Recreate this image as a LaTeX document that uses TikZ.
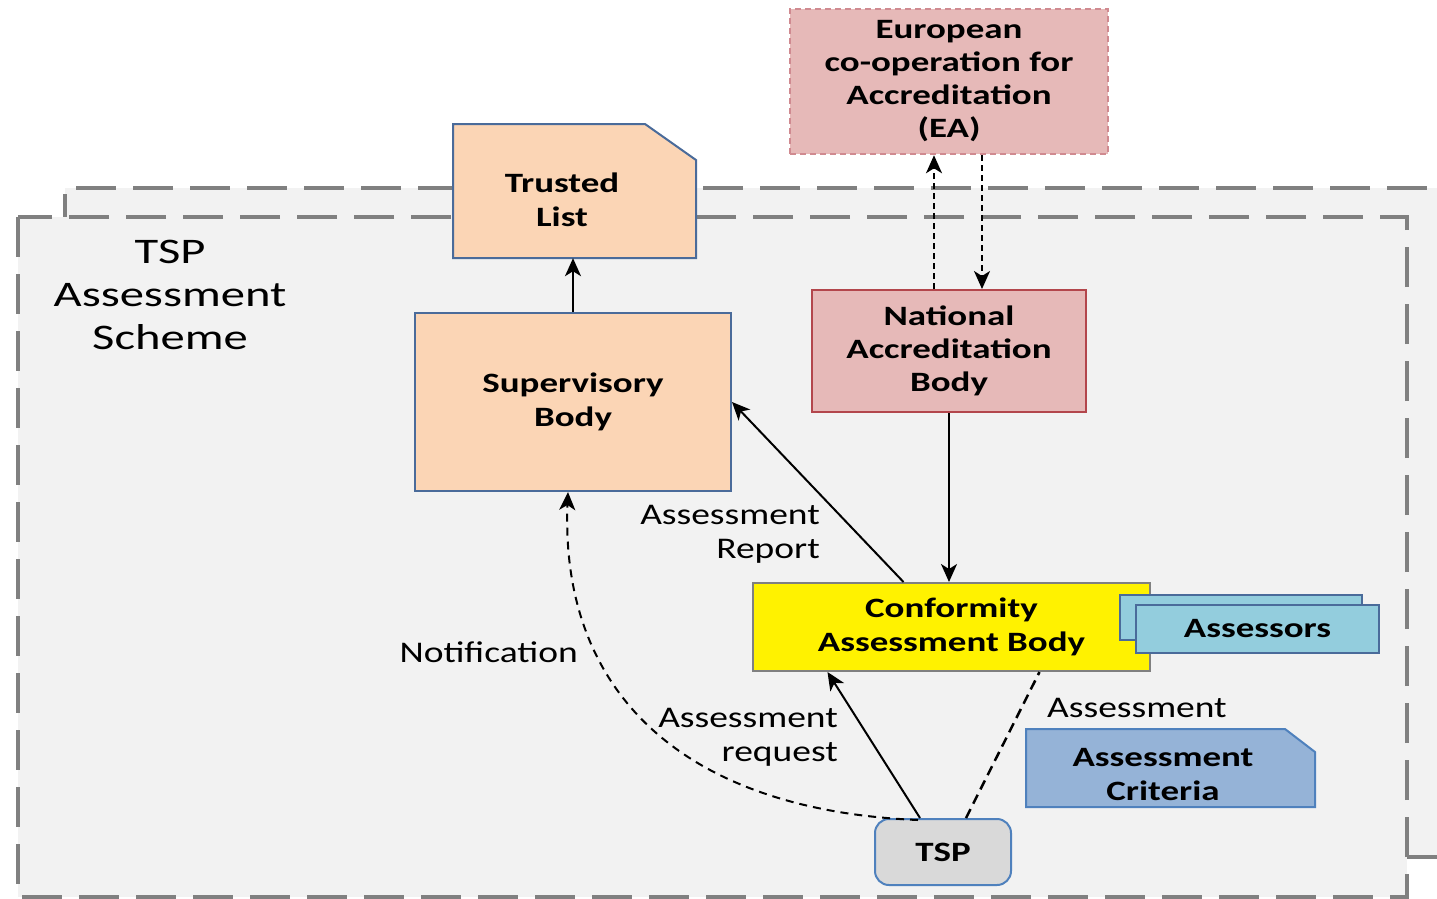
\documentclass[tikz,border=0pt]{standalone}
\usepackage{fontspec}
\setmainfont{Carlito}
\newfontfamily\boxfont{Carlito}[FakeStretch=1.32]
\newfontfamily\lblfont{Carlito}[FakeStretch=1.25]
\newfontfamily\schemefont{Carlito}[FakeStretch=1.35]
\usetikzlibrary{arrows.meta}
\definecolor{bggray}{HTML}{F2F2F2}
\definecolor{framegray}{HTML}{808080}
\definecolor{peach}{HTML}{FBD5B5}
\definecolor{slate}{HTML}{4A6B9A}
\definecolor{rosefill}{HTML}{E6B9B8}
\definecolor{rosedash}{HTML}{D08A90}
\definecolor{rosedark}{HTML}{B3464C}
\definecolor{cyanfill}{HTML}{93CDDD}
\definecolor{critfill}{HTML}{95B3D7}
\definecolor{critline}{HTML}{4F81BD}
\definecolor{tspfill}{HTML}{D9D9D9}

\begin{document}
\begin{tikzpicture}[x=1pt,y=-1pt,
    frame/.style={draw=framegray,line width=4pt,dash pattern=on 40pt off 17pt},
    box/.style={align=center,inner sep=0pt,font=\boxfont\bfseries\fontsize{28}{34}\selectfont},
    lbl/.style={inner sep=0pt,font=\lblfont\fontsize{30}{34}\selectfont},
    arr/.style={line width=2pt,-{Stealth[length=18pt,width=16pt,inset=5pt]}},
    dotarr/.style={arr,dash pattern=on 6pt off 4pt},
    peachbox/.style={box,draw=slate,line width=2pt,fill=peach}]
    \useasboundingbox (0,0) rectangle (1437,898);
    % scheme frames
    \fill[bggray] (65,188) rectangle (1437,857);
    \draw[frame] (1437,857) -- (65,857) -- (65,188) -- (1437,188);
    \filldraw[frame,fill=bggray] (18,217) rectangle (1407,897);
    \node[inner sep=0pt,align=center,font=\schemefont\fontsize{36}{43}\selectfont] (scheme) at (170,295) {TSP\\Assessment\\Scheme};
    % documents
    \filldraw[slate,fill=peach,line width=2pt] (453,124) -- (645,124) -- (696,160) -- (696,258) -- (453,258) -- cycle;
    \node[box,minimum height=116pt] (tl) at (562,200) {Trusted\\List};
    \filldraw[critline,fill=critfill,line width=2pt] (1026,729) -- (1285,729) -- (1315,752) -- (1315,807) -- (1026,807) -- cycle;
    \node[box] (crit) at (1163,775) {Assessment\\Criteria};
    % bodies
    \node[peachbox,minimum width=316pt,minimum height=178pt] (sb) at (573,402) {Supervisory\\Body};
    \node[box,draw=rosedash,line width=2.5pt,dash pattern=on 6pt off 4pt,fill=rosefill,
        minimum width=318pt,minimum height=145pt,font=\boxfont\bfseries\fontsize{28}{33}\selectfont] (ea) at (949,81.5) {European\\co-operation for\\Accreditation\\(EA)};
    \node[box,draw=rosedark,line width=2pt,fill=rosefill,minimum width=274pt,minimum height=122pt,
        font=\boxfont\bfseries\fontsize{28}{33}\selectfont] (nab) at (949,351) {National\\Accreditation\\Body};
    \node[box,draw=framegray,line width=2pt,fill=yellow,minimum width=397pt,minimum height=88pt] (cab) at (951.5,627) {Conformity\\Assessment Body};
    \node[draw=slate,line width=2pt,fill=cyanfill,minimum width=242pt,minimum height=45pt] (asb) at (1241,617.5) {};
    \node[box,draw=slate,line width=2pt,fill=cyanfill,minimum width=243pt,minimum height=48pt] (as) at (1257.5,629) {Assessors};
    \node[box,draw=critline,line width=2pt,fill=tspfill,rounded corners=14pt,minimum width=136pt,minimum height=66pt] (tsp) at (943,852) {TSP};
    % connectors
    \draw[arr] (sb.north) -- (sb.north |- tl.south);
    \draw[dotarr] ([xshift=-15pt]nab.north) -- ([xshift=-15pt]nab.north |- ea.south);
    \draw[dotarr] ([xshift=33pt]ea.south) -- ([xshift=33pt]ea.south |- nab.north);
    \draw[arr] (nab.south) -- (nab.south |- cab.north);
    \draw[arr] ([xshift=-48pt]cab.north) -- (sb.east);
    \draw[arr] ([xshift=-23pt]tsp.north) -- ([xshift=-124pt]cab.south);
    \draw[line width=2.5pt,dash pattern=on 10pt off 6pt] ([xshift=23pt]tsp.north) -- ([xshift=88pt]cab.south);
    \draw[arr,dash pattern=on 8pt off 6pt] ([xshift=-25pt,yshift=-2pt]tsp.north) .. controls (680,810) and (560,690) .. ([xshift=-5pt]sb.south);
    % labels
    \node[lbl,align=right,anchor=east] (rep) at (820,534) {Assessment\\Report};
    \node[lbl,align=right,anchor=east] (req) at (838,737) {Assessment\\request};
    \node[lbl,anchor=east] (notif) at (578,652) {Notification};
    \node[lbl,anchor=west] (asm) at (1047,708) {Assessment};
\end{tikzpicture}
\end{document}
